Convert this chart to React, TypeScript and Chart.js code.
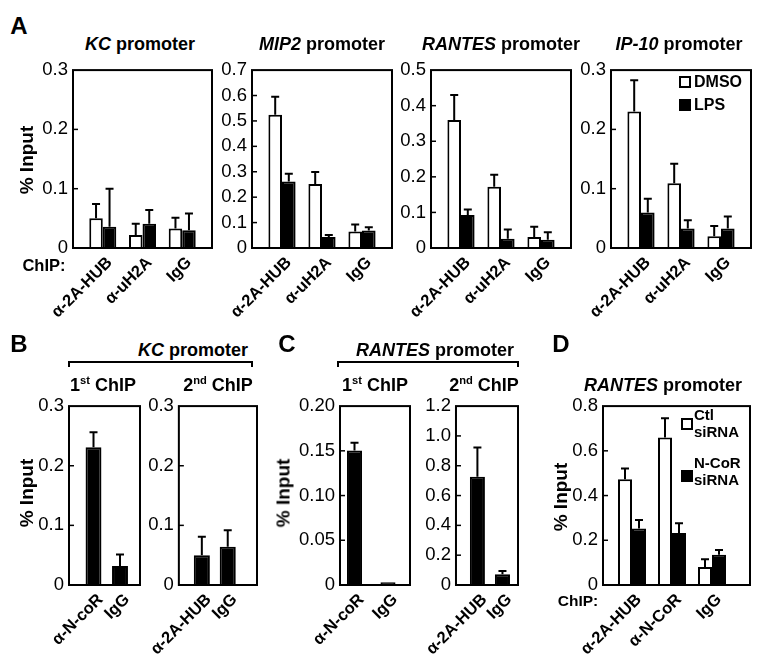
import React, { useEffect, useRef } from 'react';
import { Chart, registerables } from 'chart.js';

Chart.register(...registerables);

const FONT = '"Liberation Sans", Arial, Helvetica, sans-serif';

// ---------- data ----------
const aCategories = ['α-2A-HUB', 'α-uH2A', 'IgG'];
const kcDmso = [0.050, 0.022, 0.033];
const kcDmsoSd = [0.024, 0.019, 0.018];
const kcLps = [0.036, 0.041, 0.030];
const kcLpsSd = [0.064, 0.023, 0.028];
const kcTicks = [0, 0.1, 0.2, 0.3];

const mip2Dmso = [0.524, 0.252, 0.065];
const mip2DmsoSd = [0.071, 0.047, 0.027];
const mip2Lps = [0.262, 0.043, 0.069];
const mip2LpsSd = [0.030, 0.008, 0.013];
const mip2Ticks = [0, 0.1, 0.2, 0.3, 0.4, 0.5, 0.6, 0.7];

const rantesDmso = [0.360, 0.172, 0.031];
const rantesDmsoSd = [0.070, 0.034, 0.029];
const rantesLps = [0.093, 0.026, 0.023];
const rantesLpsSd = [0.015, 0.026, 0.021];
const rantesTicks = [0, 0.1, 0.2, 0.3, 0.4, 0.5];

const ip10Dmso = [0.230, 0.109, 0.020];
const ip10DmsoSd = [0.053, 0.033, 0.017];
const ip10Lps = [0.060, 0.033, 0.033];
const ip10LpsSd = [0.023, 0.014, 0.020];
const ip10Ticks = [0, 0.1, 0.2, 0.3];

const b1Categories = ['α-N-coR', 'IgG'];
const b1Values = [0.231, 0.032];
const b1Sd = [0.025, 0.019];
const b2Categories = ['α-2A-HUB', 'IgG'];
const b2Values = [0.050, 0.064];
const b2Sd = [0.031, 0.028];
const bTicks = [0, 0.1, 0.2, 0.3];

const c1Categories = ['α-N-coR', 'IgG'];
const c1Values = [0.1505, 0.003];
const c1Sd = [0.0085, 0];
const c1Ticks = [0, 0.05, 0.10, 0.15, 0.20];
const c2Categories = ['α-2A-HUB', 'IgG'];
const c2Values = [0.726, 0.072];
const c2Sd = [0.197, 0.022];
const c2Ticks = [0, 0.2, 0.4, 0.6, 0.8, 1.0, 1.2];

const dCategories = ['α-2A-HUB', 'α-N-CoR', 'IgG'];
const dCtl = [0.473, 0.660, 0.080];
const dCtlSd = [0.048, 0.086, 0.035];
const dNcor = [0.253, 0.233, 0.135];
const dNcorSd = [0.038, 0.043, 0.022];
const dTicks = [0, 0.2, 0.4, 0.6, 0.8];

// ---------- layout ----------
const Y_W = 50;
const X_H = 85;
const PAD_T = 12;
const PAD_R = 6;

type Series = { values: number[]; errors: number[]; fill: string };
type Panel = {
  box: [number, number, number, number];
  categories: string[];
  series: Series[];
  yTicks: number[];
  decimals: number;
  xRange: [number, number];
  catPct: number;
};

const WHITE = '#ffffff';
const BLACK = '#000000';

const panels: Panel[] = [
  { box: [73, 66, 212, 248], categories: aCategories, series: [
      { values: kcDmso, errors: kcDmsoSd, fill: WHITE },
      { values: kcLps, errors: kcLpsSd, fill: BLACK }],
    yTicks: kcTicks, decimals: 1, xRange: [-0.75, 2.75], catPct: 0.68 },
  { box: [252, 66, 392, 248], categories: aCategories, series: [
      { values: mip2Dmso, errors: mip2DmsoSd, fill: WHITE },
      { values: mip2Lps, errors: mip2LpsSd, fill: BLACK }],
    yTicks: mip2Ticks, decimals: 1, xRange: [-0.75, 2.75], catPct: 0.68 },
  { box: [431, 66, 571, 248], categories: aCategories, series: [
      { values: rantesDmso, errors: rantesDmsoSd, fill: WHITE },
      { values: rantesLps, errors: rantesLpsSd, fill: BLACK }],
    yTicks: rantesTicks, decimals: 1, xRange: [-0.75, 2.75], catPct: 0.68 },
  { box: [611, 66, 751, 248], categories: aCategories, series: [
      { values: ip10Dmso, errors: ip10DmsoSd, fill: WHITE },
      { values: ip10Lps, errors: ip10LpsSd, fill: BLACK }],
    yTicks: ip10Ticks, decimals: 1, xRange: [-0.75, 2.75], catPct: 0.68 },
  { box: [69, 402, 140, 585], categories: b1Categories, series: [
      { values: b1Values, errors: b1Sd, fill: BLACK }],
    yTicks: bTicks, decimals: 1, xRange: [-0.925, 1.755], catPct: 0.6 },
  { box: [177, 402, 257, 585], categories: b2Categories, series: [
      { values: b2Values, errors: b2Sd, fill: BLACK }],
    yTicks: bTicks, decimals: 1, xRange: [-0.887, 2.13], catPct: 0.62 },
  { box: [340, 402, 410, 585], categories: c1Categories, series: [
      { values: c1Values, errors: c1Sd, fill: BLACK }],
    yTicks: c1Ticks, decimals: 2, xRange: [-0.433, 1.657], catPct: 0.45 },
  { box: [450, 402, 518, 585], categories: c2Categories, series: [
      { values: c2Values, errors: c2Sd, fill: BLACK }],
    yTicks: c2Ticks, decimals: 1, xRange: [-0.855, 1.62], catPct: 0.6 },
  { box: [603, 402, 750, 585], categories: dCategories, series: [
      { values: dCtl, errors: dCtlSd, fill: WHITE },
      { values: dNcor, errors: dNcorSd, fill: BLACK }],
    yTicks: dTicks, decimals: 1, xRange: [-0.725, 2.95], catPct: 0.7 },
];

const boxPlugin = {
  id: 'boxAndErrors',
  afterDatasetsDraw(chart: any) {
    const ctx = chart.ctx;
    const ys = chart.scales.y;
    ctx.save();
    ctx.strokeStyle = BLACK;
    ctx.lineWidth = 2;
    chart.data.datasets.forEach((ds: any, i: number) => {
      const meta = chart.getDatasetMeta(i);
      meta.data.forEach((el: any, j: number) => {
        const err = ds.errors ? ds.errors[j] : 0;
        if (!err) return;
        const v = ds.data[j].y;
        const yTop = ys.getPixelForValue(v + err);
        ctx.beginPath();
        ctx.moveTo(el.x, el.y);
        ctx.lineTo(el.x, yTop);
        ctx.moveTo(el.x - 4, yTop);
        ctx.lineTo(el.x + 4, yTop);
        ctx.stroke();
      });
    });
    const a = chart.chartArea;
    ctx.lineWidth = 2;
    ctx.strokeRect(a.left, a.top, a.right - a.left, a.bottom - a.top);
    ctx.lineWidth = 1.5;
    ys.ticks.forEach((t: any) => {
      if (t.value <= ys.min || t.value >= ys.max) return;
      const y = ys.getPixelForValue(t.value);
      ctx.beginPath();
      ctx.moveTo(a.left, y);
      ctx.lineTo(a.left + 5, y);
      ctx.stroke();
    });
    ctx.restore();
  },
};

function BarPanel({ p }: { p: Panel }) {
  const ref = useRef<HTMLCanvasElement>(null);
  const [l, t, r, b] = p.box;
  const cw = Y_W + (r - l) + PAD_R;
  const ch = PAD_T + (b - t) + X_H;
  useEffect(() => {
    const yMax = p.yTicks[p.yTicks.length - 1];
    const chart = new Chart(ref.current as HTMLCanvasElement, {
      type: 'bar',
      data: {
        datasets: p.series.map((s) => ({
          data: s.values.map((v, i) => ({ x: i, y: v })),
          errors: s.errors,
          backgroundColor: s.fill,
          borderColor: BLACK,
          borderWidth: 2,
          barPercentage: 1,
          categoryPercentage: p.catPct,
        })) as any,
      },
      options: {
        animation: false,
        responsive: false,
        devicePixelRatio: 1,
        events: [],
        layout: { padding: { top: PAD_T, right: PAD_R, left: 0, bottom: 0 } },
        plugins: { legend: { display: false }, tooltip: { enabled: false }, title: { display: false } },
        scales: {
          x: {
            type: 'linear',
            min: p.xRange[0],
            max: p.xRange[1],
            offset: false,
            grid: { display: false, drawTicks: false },
            border: { display: false },
            ticks: {
              autoSkip: false,
              minRotation: 45,
              maxRotation: 45,
              padding: 5,
              labelOffset: 7,
              color: BLACK,
              font: { family: FONT, size: 16.5, weight: 'bold' },
              callback: (v: any) => p.categories[Number(v)] ?? '',
            },
            afterBuildTicks: (s: any) => { s.ticks = p.categories.map((_, i) => ({ value: i })); },
            afterFit: (s: any) => { s.height = X_H; },
          },
          y: {
            min: 0,
            max: yMax,
            grid: { display: false, drawTicks: false },
            border: { display: false },
            ticks: {
              padding: 5,
              color: BLACK,
              font: { family: FONT, size: 18.5 },
              callback: (v: any) => (Number(v) === 0 ? '0' : Number(v).toFixed(p.decimals)),
            },
            afterBuildTicks: (s: any) => { s.ticks = p.yTicks.map((v) => ({ value: v })); },
            afterFit: (s: any) => { s.width = Y_W; },
          },
        },
      } as any,
      plugins: [boxPlugin],
    });
    return () => chart.destroy();
  }, []);
  return (
    <canvas
      ref={ref}
      width={cw}
      height={ch}
      style={{ position: 'absolute', left: l - Y_W, top: t - PAD_T, width: cw, height: ch }}
    />
  );
}

function T({ x, y, size, children, rotate, align, weight }: any) {
  const tx = align === 'left' ? '0' : '-50%';
  return (
    <div
      style={{
        position: 'absolute',
        left: x,
        top: y,
        transform: `translate(${tx}, -50%)${rotate ? ' rotate(-90deg)' : ''}`,
        transformOrigin: rotate ? 'center' : undefined,
        fontFamily: FONT,
        fontWeight: weight ?? 'bold',
        fontSize: size,
        lineHeight: 1,
        whiteSpace: 'nowrap',
        color: '#000',
      }}
    >
      {children}
    </div>
  );
}

const I = ({ children }: any) => <span style={{ fontStyle: 'italic' }}>{children}</span>;
const Sup = ({ children }: any) => (
  <span style={{ fontSize: '0.62em', verticalAlign: 'top', position: 'relative', top: '-0.1em' }}>{children}</span>
);

function Bracket({ x1, x2, y }: any) {
  return (
    <div
      style={{
        position: 'absolute',
        left: x1,
        top: y,
        width: x2 - x1,
        height: 6,
        borderTop: '2px solid #000',
        borderLeft: '2px solid #000',
        borderRight: '2px solid #000',
        boxSizing: 'border-box',
      }}
    />
  );
}

function Sq({ x, y, filled }: any) {
  return (
    <div
      style={{
        position: 'absolute',
        left: x,
        top: y,
        width: 12,
        height: 12,
        boxSizing: 'border-box',
        border: '2px solid #000',
        background: filled ? '#000' : '#fff',
      }}
    />
  );
}

export default function App() {
  return (
    <div style={{ position: 'absolute', left: 0, top: 0, width: 765, height: 656, background: '#fff', overflow: 'hidden' }}>
      {panels.map((p, i) => <BarPanel key={i} p={p} />)}

      <T x={19} y={26} size={24}>A</T>
      <T x={140} y={44} size={18}><I>KC</I> promoter</T>
      <T x={322} y={44} size={18}><I>MIP2</I> promoter</T>
      <T x={501} y={44} size={18}><I>RANTES</I> promoter</T>
      <T x={679} y={44} size={18}><I>IP-10</I> promoter</T>
      <T x={26} y={160} size={19} rotate>% Input</T>
      <T x={44} y={265} size={16.5}>ChIP:</T>
      <Sq x={679} y={76} />
      <T x={694} y={82} size={16} align="left">DMSO</T>
      <Sq x={679} y={99} filled />
      <T x={694} y={105} size={16} align="left">LPS</T>

      <T x={19} y={344} size={24}>B</T>
      <T x={193} y={350} size={18}><I>KC</I> promoter</T>
      <Bracket x1={68} x2={253} y={361} />
      <T x={103} y={385} size={18}>1<Sup>st</Sup> ChIP</T>
      <T x={218} y={385} size={18}>2<Sup>nd</Sup> ChIP</T>
      <T x={26} y={493} size={19} rotate>% Input</T>

      <T x={287} y={344} size={24}>C</T>
      <T x={435} y={350} size={18}><I>RANTES</I> promoter</T>
      <Bracket x1={337} x2={519} y={361} />
      <T x={375} y={385} size={18}>1<Sup>st</Sup> ChIP</T>
      <T x={484} y={385} size={18}>2<Sup>nd</Sup> ChIP</T>
      <T x={283} y={493} size={19} rotate>% Input</T>

      <T x={561} y={344} size={24}>D</T>
      <T x={663} y={385} size={18}><I>RANTES</I> promoter</T>
      <T x={560} y={497} size={19} rotate>% Input</T>
      <T x={578} y={601} size={15.5}>ChIP:</T>
      <Sq x={681} y={418} />
      <T x={694} y={414} size={15} align="left">Ctl</T>
      <T x={694} y={431} size={15} align="left">siRNA</T>
      <Sq x={681} y={470} filled />
      <T x={694} y={462} size={15} align="left">N-CoR</T>
      <T x={694} y={479} size={15} align="left">siRNA</T>
    </div>
  );
}
